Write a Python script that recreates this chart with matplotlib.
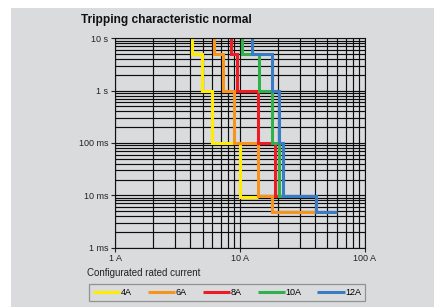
import matplotlib
matplotlib.use("Agg")
import matplotlib.pyplot as plt
from matplotlib.patches import Rectangle
from matplotlib.ticker import LogLocator, NullFormatter

plt.rcParams['font.family'] = ['Liberation Sans', 'DejaVu Sans']

# step curves: current (A) and trip time (s) at each corner
labels = ["4A", "6A", "8A", "10A", "12A"]
colors = ["#ffec00", "#f7941d", "#ed1c24", "#2fb24a", "#3a7cc3"]

amps_4a = [4.14, 4.14, 4.97, 4.97, 5.98, 5.98, 9.96, 9.96, 13.9]
secs_4a = [10, 5, 5, 1, 1, 0.1, 0.1, 0.0094, 0.0094]

amps_6a = [6.21, 6.21, 7.33, 7.33, 8.88, 8.88, 13.9, 13.9, 18.1, 18.1, 39.8]
secs_6a = [10, 5, 5, 1, 1, 0.1, 0.1, 0.0095, 0.0095, 0.0048, 0.0048]

amps_8a = [8.4, 8.4, 9.38, 9.38, 13.8, 13.8, 19.0, 19.0, 22.0]
secs_8a = [10, 5, 5, 1, 1, 0.1, 0.1, 0.0095, 0.0095]

amps_10a = [10.4, 10.4, 14.1, 14.1, 17.9, 17.9, 20.5, 20.5, 22.0]
secs_10a = [10, 5, 5, 1, 1, 0.1, 0.1, 0.0095, 0.0095]

amps_12a = [12.5, 12.5, 17.9, 17.9, 20.3, 20.3, 21.9, 21.9, 40.4, 40.4, 60.0]
secs_12a = [10, 5, 5, 1, 1, 0.1, 0.1, 0.0095, 0.0095, 0.0048, 0.0048]

ytick_vals = [0.001, 0.01, 0.1, 1, 10]
ytick_labels = ["1 ms", "10 ms", "100 ms", "1 s", "10 s"]
xtick_vals = [1, 10, 100]
xtick_labels = ["1 A", "10 A", "100 A"]

W, H = 435, 307
fig = plt.figure(figsize=(W / 100, H / 100), dpi=100)
fig.patch.set_facecolor("white")
fig.patches.append(Rectangle((11 / W, 0), 1, 1 - 8 / H, transform=fig.transFigure,
                             facecolor="#dadbdc", edgecolor="none", zorder=-10))

ax = fig.add_axes([115.3 / W, 1 - 247.6 / H, (365 - 115.3) / W, (247.6 - 38.3) / H])
ax.set_facecolor("#dadbdc")
ax.set_xscale("log")
ax.set_yscale("log")
ax.set_xlim(1, 100)
ax.set_ylim(0.001, 10)

ax.xaxis.set_minor_locator(LogLocator(base=10, subs=range(2, 10)))
ax.yaxis.set_minor_locator(LogLocator(base=10, subs=range(2, 10)))
ax.xaxis.set_minor_formatter(NullFormatter())
ax.yaxis.set_minor_formatter(NullFormatter())
ax.grid(True, which="both", color="#0d0d0d", linewidth=0.85)
ax.set_axisbelow(True)

curves = [(amps_4a, secs_4a), (amps_6a, secs_6a), (amps_8a, secs_8a),
          (amps_10a, secs_10a), (amps_12a, secs_12a)]
for (a, s), lab, col in zip(curves, labels, colors):
    ax.plot(a, s, color=col, linewidth=2.2, label=lab, solid_capstyle="butt",
            solid_joinstyle="miter")

ax.set_xticks(xtick_vals)
ax.set_xticklabels(xtick_labels)
ax.set_yticks(ytick_vals)
ax.set_yticklabels(ytick_labels)
ax.tick_params(which="major", length=3, width=0.8, labelsize=6.5, color="#222222",
               labelcolor="#222222")
ax.tick_params(axis="x", pad=1.5)
ax.tick_params(axis="y", pad=2)
ax.tick_params(which="minor", length=0)
for sp in ax.spines.values():
    sp.set_color("#111111")
    sp.set_linewidth(0.8)

fig.text(81 / W, 1 - 20 / H, "Tripping characteristic normal", fontsize=8.6,
         fontweight="bold", va="center", ha="left", color="#111111")
fig.text(87 / W, 1 - 273 / H, "Configurated rated current", fontsize=7,
         va="center", ha="left", color="#222222")

leg = fig.legend(loc="center", bbox_to_anchor=(227.3 / W, 1 - 292.8 / H), ncol=5,
                 fontsize=6.5, handlelength=3.0, handletextpad=0.1, columnspacing=1.75,
                 frameon=True, fancybox=False, borderpad=0.45)
leg.get_frame().set_edgecolor("#808080")
leg.get_frame().set_facecolor("none")
leg.get_frame().set_linewidth(0.9)
for line in leg.get_lines():
    line.set_linewidth(2.2)

fig.savefig("out.png", dpi=100, facecolor=fig.get_facecolor())
